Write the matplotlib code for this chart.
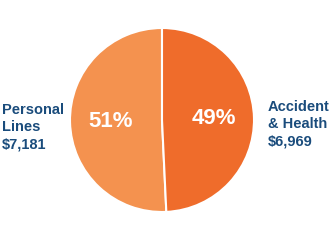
import matplotlib.pyplot as plt

# data
names = ['Personal\nLines', 'Accident\n& Health']
values = [7181, 6969]
colors = ['#F4924F', '#EF6C2B']
text_color = '#1A4C7C'

fig = plt.figure(figsize=(3.33, 2.4), dpi=100)
cx, cy, r = 162, 120, 92
ax = fig.add_axes([(cx - r) / 333, (240 - cy - r) / 240, 2 * r / 333, 2 * r / 240])

wedges, texts, autotexts = ax.pie(
    values, colors=colors, startangle=90, counterclock=True,
    autopct='%.0f%%', pctdistance=0.56,
    wedgeprops=dict(edgecolor='white', linewidth=1.5),
    textprops=dict(color='white', fontsize=16, fontweight='bold', family='Liberation Sans'))
ax.set_xlim(-1, 1)
ax.set_ylim(-1, 1)
ax.set_aspect('equal')
ax.axis('off')

# side labels
lbl_left = f'{names[0]}\n${values[0]:,}'
lbl_right = f'{names[1]}\n${values[1]:,}'
fig.text(2 / 333, 1 - 127 / 240, lbl_left, ha='left', va='center', color=text_color,
         fontsize=10.5, fontweight='bold', family='Liberation Sans', linespacing=1.3)
fig.text(268 / 333, 1 - 124 / 240, lbl_right, ha='left', va='center', color=text_color,
         fontsize=10.5, fontweight='bold', family='Liberation Sans', linespacing=1.3)

fig.savefig('out.png', dpi=100)
